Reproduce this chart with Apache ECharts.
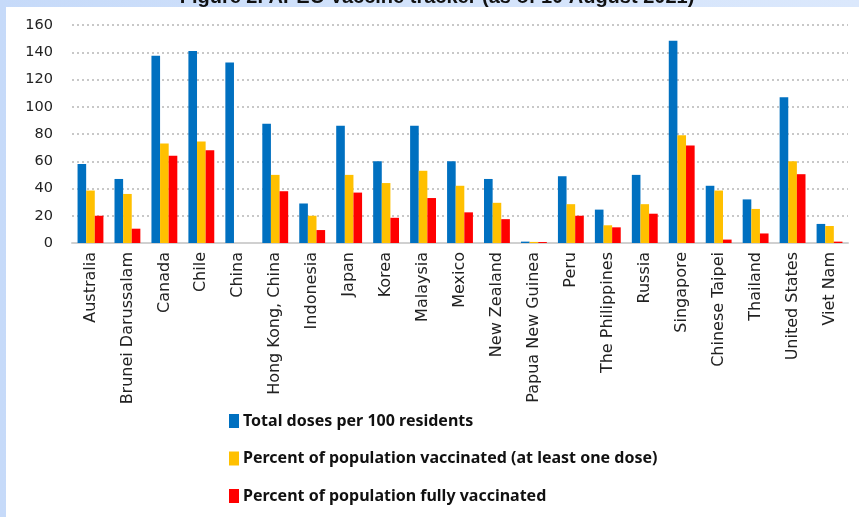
<!DOCTYPE html>
<html>
<head>
<meta charset="utf-8">
<script src="https://cdn.jsdelivr.net/npm/echarts@6/dist/echarts.min.js"></script>
<style>
  html, body { margin: 0; padding: 0; }
  #chart { width: 859px; height: 517px; }
</style>
</head>
<body>
<div id="chart"></div>
<script>
// APEC vaccine tracker, 10 August 2021
const economies = [
  'Australia', 'Brunei Darussalam', 'Canada', 'Chile', 'China',
  'Hong Kong, China', 'Indonesia', 'Japan', 'Korea', 'Malaysia',
  'Mexico', 'New Zealand', 'Papua New Guinea', 'Peru', 'The Philippines',
  'Russia', 'Singapore', 'Chinese Taipei', 'Thailand', 'United States', 'Viet Nam'
];
const totalDoses = [58, 47, 137.5, 141, 132.5, 87.5, 29, 86, 60, 86, 60, 47, 1.0, 49, 24.5, 50, 148.5, 42, 32, 107, 14];
const atLeastOneDose = [38.5, 36, 73, 74.5, null, 50, 20, 50, 44, 53, 42, 29.5, 0.8, 28.5, 13, 28.5, 79, 38.5, 25, 60, 12.5];
const fullyVaccinated = [20, 10.5, 64, 68, null, 38, 9.5, 37, 18.5, 33, 22.5, 17.5, 0.7, 20, 11.5, 21.5, 71.5, 2.5, 7, 50.5, 1];
const yTicks = [0, 20, 40, 60, 80, 100, 120, 140, 160];

const seriesNames = [
  'Total doses per 100 residents',
  'Percent of population vaccinated (at least one dose)',
  'Percent of population fully vaccinated'
];
const seriesColors = ['#0070c0', '#ffc000', '#ff0000'];
const seriesData = [totalDoses, atLeastOneDose, fullyVaccinated];

const chart = echarts.init(document.getElementById('chart'), null, { renderer: 'canvas' });

chart.setOption({
  animation: false,
  backgroundColor: '#c9dcf9',
  graphic: [
    {
      type: 'rect', z: -10, silent: true,
      shape: { x: 0, y: 0, width: 859, height: 517 },
      style: {
        fill: new echarts.graphic.LinearGradient(0, 0, 1, 0, [
          { offset: 0, color: '#c6daf9' },
          { offset: 0.5, color: '#d3e3fb' },
          { offset: 1, color: '#dbe8fc' }
        ])
      }
    },
    {
      type: 'text', z: -9, silent: true,
      x: 437, y: 7.5,
      style: {
        text: 'Figure 2. APEC Vaccine tracker (as of 10 August 2021)',
        fill: '#111',
        font: 'bold 20px "Liberation Sans", Arial, sans-serif',
        align: 'center',
        verticalAlign: 'bottom'
      }
    },
    {
      type: 'rect', z: -8, silent: true,
      shape: { x: 6, y: 7, width: 853, height: 510 },
      style: { fill: '#ffffff' }
    }
  ],
  legend: {
    orient: 'vertical',
    left: 224,
    top: 408,
    itemWidth: 10,
    itemHeight: 14,
    itemGap: 21.5,
    icon: 'rect',
    textStyle: {
      fontFamily: '"Noto Sans", "Open Sans", sans-serif',
      fontWeight: 'bold',
      fontSize: 16,
      color: '#111',
      padding: [0, 0, 0, -1]
    },
    data: seriesNames
  },
  grid: {
    left: 72,
    right: 11,
    top: 25,
    bottom: 274,
    containLabel: false
  },
  xAxis: {
    type: 'category',
    data: economies,
    axisTick: { show: false },
    axisLine: { lineStyle: { color: '#d0d0d0', width: 2 } },
    axisLabel: {
      rotate: 90,
      interval: 0,
      margin: 9,
      fontFamily: '"DejaVu Sans"',
      fontSize: 16,
      color: '#222'
    }
  },
  yAxis: {
    type: 'value',
    min: 0,
    max: 160,
    interval: 20,
    axisLine: { show: false },
    axisTick: { show: false },
    axisLabel: {
      margin: 19,
      fontFamily: '"DejaVu Sans"',
      fontSize: 14.5,
      color: '#222',
      formatter: v => (yTicks.indexOf(v) >= 0 ? String(v) : '')
    },
    splitLine: {
      lineStyle: { color: '#c8c8c8', width: 2, type: [2, 3] }
    }
  },
  series: seriesNames.map((name, i) => ({
    name: name,
    type: 'bar',
    data: seriesData[i],
    barGap: '0%',
    barCategoryGap: '30%',
    itemStyle: { color: seriesColors[i] }
  }))
});
</script>
</body>
</html>
